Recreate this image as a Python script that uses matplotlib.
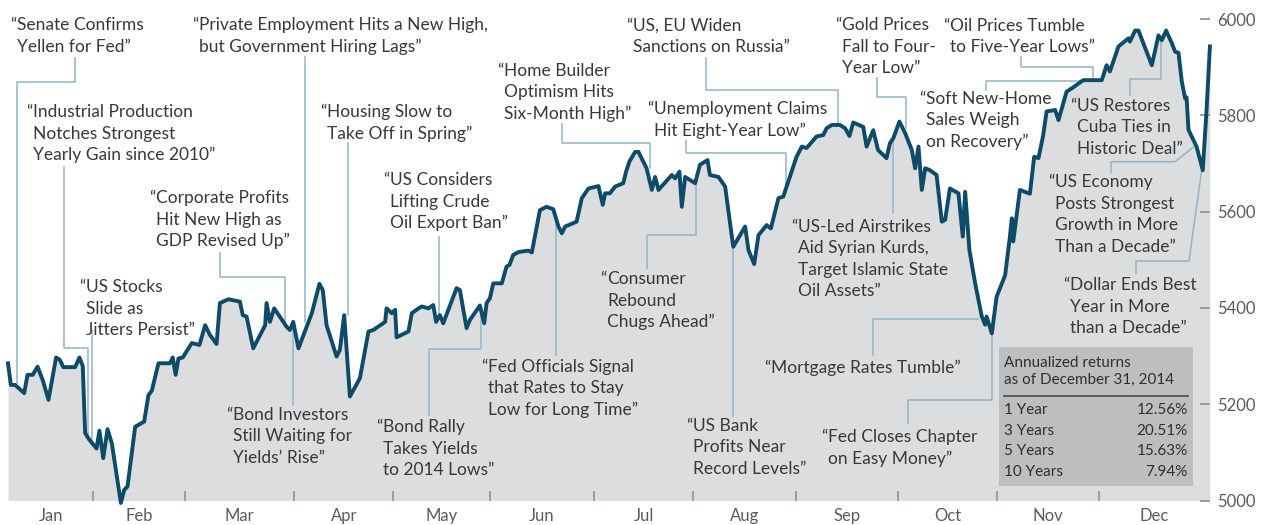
import matplotlib
matplotlib.use("Agg")
import matplotlib.pyplot as plt
import matplotlib.transforms as mtransforms
from matplotlib.patches import Rectangle

plt.rcParams['font.family'] = ['Lato', 'DejaVu Sans']

# ---------------- data ----------------
trading_day = [
    0.0, 0.6, 1.5, 3.4, 4.1, 5.2, 6.2, 7.3, 8.5, 10.1,
    10.9, 11.6, 14.1, 15.0, 15.7, 16.2, 17.1, 18.6, 19.2, 20.0,
    20.9, 21.8, 23.7, 24.4, 25.1, 26.7, 28.6, 29.5, 30.2, 31.6,
    34.0, 34.6, 35.2, 35.8, 36.7, 38.6, 40.2, 41.4, 42.4, 43.8,
    44.5, 46.3, 48.7, 49.3, 50.1, 51.5, 54.0, 54.3, 55.0, 55.9,
    58.5, 59.2, 59.9, 61.0, 63.8, 65.4, 66.1, 66.9, 69.0, 69.7,
    70.6, 71.8, 73.9, 75.7, 76.7, 79.2, 79.5, 80.6, 81.3, 81.6,
    84.1, 84.8, 86.2, 86.9, 88.3, 89.3, 89.9, 90.7, 91.4, 94.2,
    94.9, 96.3, 97.0, 99.1, 100.0, 100.5, 101.2, 101.9, 103.7, 104.7,
    105.3, 106.1, 107.2, 109.3, 110.0, 111.7, 113.1, 114.5, 115.6, 116.3,
    117.0, 119.4, 120.5, 121.2, 121.9, 124.0, 124.9, 125.4, 126.4, 127.5,
    129.2, 129.8, 130.5, 131.7, 132.4, 132.7, 134.1, 135.2, 135.9, 136.6,
    139.4, 140.1, 141.0, 141.5, 142.2, 144.3, 145.3, 146.9, 147.4, 149.2,
    150.6, 152.3, 154.8, 155.5, 156.7, 157.6, 159.3, 160.2, 161.8, 162.8,
    165.6, 166.7, 167.7, 169.8, 171.2, 171.9, 173.0, 174.7, 175.8, 176.7,
    177.5, 179.6, 180.3, 181.7, 182.7, 184.5, 185.2, 185.9, 187.2, 188.4,
    189.8, 190.5, 191.2, 191.9, 192.6, 193.6, 195.0, 196.1, 196.8, 197.8,
    199.6, 200.5, 201.0, 201.9, 203.1, 204.5, 205.2, 205.5, 206.6, 207.6,
    209.4, 210.4, 210.8, 211.1, 212.5, 214.6, 215.5, 216.4, 217.4, 218.1,
    219.9, 220.6, 222.3, 223.7, 225.8, 229.7, 230.7, 231.4, 233.2, 235.3,
    235.6, 236.7, 237.4, 240.2, 241.6, 242.3, 243.2, 244.4, 245.1, 245.8,
    246.5, 247.2, 247.5, 247.9, 249.6, 250.9, 251.7, 252.4,
]
index_value = [
    5285, 5240, 5240, 5223, 5261, 5261, 5278, 5250, 5209, 5297,
    5292, 5277, 5277, 5297, 5279, 5140, 5126, 5108, 5145, 5088,
    5148, 5119, 4995, 5022, 5029, 5153, 5164, 5219, 5228, 5285,
    5285, 5297, 5261, 5295, 5297, 5327, 5323, 5364, 5344, 5325,
    5410, 5418, 5413, 5385, 5382, 5316, 5364, 5410, 5371, 5399,
    5361, 5354, 5371, 5316, 5389, 5450, 5437, 5364, 5299, 5313,
    5385, 5216, 5254, 5351, 5354, 5371, 5399, 5389, 5396, 5339,
    5351, 5389, 5399, 5403, 5399, 5406, 5371, 5385, 5368, 5441,
    5437, 5358, 5375, 5405, 5368, 5410, 5420, 5451, 5451, 5486,
    5489, 5510, 5516, 5519, 5515, 5603, 5610, 5605, 5569, 5555,
    5569, 5579, 5628, 5638, 5648, 5653, 5614, 5638, 5638, 5652,
    5659, 5683, 5704, 5724, 5724, 5718, 5690, 5645, 5672, 5645,
    5676, 5669, 5683, 5610, 5672, 5659, 5697, 5707, 5676, 5672,
    5652, 5527, 5569, 5520, 5491, 5551, 5572, 5565, 5628, 5631,
    5714, 5735, 5732, 5756, 5759, 5773, 5780, 5780, 5773, 5757,
    5785, 5776, 5735, 5769, 5728, 5711, 5742, 5752, 5787, 5763,
    5728, 5690, 5735, 5645, 5690, 5686, 5676, 5579, 5583, 5648,
    5638, 5548, 5641, 5520, 5451, 5382, 5365, 5382, 5347, 5423,
    5468, 5548, 5586, 5538, 5645, 5637, 5714, 5711, 5759, 5808,
    5811, 5790, 5849, 5858, 5873, 5873, 5904, 5891, 5943, 5960,
    5953, 5976, 5976, 5904, 5966, 5956, 5976, 5950, 5932, 5930,
    5870, 5835, 5837, 5770, 5735, 5686, 5811, 5943,
]
month_names = ["Jan", "Feb", "Mar", "Apr", "May", "Jun",
               "Jul", "Aug", "Sep", "Oct", "Nov", "Dec"]
month_edges = [0, 17.9, 37.2, 60.1, 80.9, 101.2, 123.1, 143.9,
               165.5, 186.9, 207.7, 229.1, 252.42]
y_ticks = [5000, 5200, 5400, 5600, 5800, 6000]

table_title = ["Annualized returns", "as of December 31, 2014"]
return_periods = ["1 Year", "3 Years", "5 Years", "10 Years"]
return_values = ["12.56%", "20.51%", "15.63%", "7.94%"]

headline_texts = [
    ["Senate Confirms", "Yellen for Fed\u201d"],
    ["Industrial Production", "Notches Strongest", "Yearly Gain since 2010\u201d"],
    ["US Stocks", "Slide as", "Jitters Persist\u201d"],
    ["Corporate Profits", "Hit New High as", "GDP Revised Up\u201d"],
    ["Private Employment Hits a New High,", "but Government Hiring Lags\u201d"],
    ["Housing Slow to", "Take Off in Spring\u201d"],
    ["US Considers", "Lifting Crude", "Oil Export Ban\u201d"],
    ["Home Builder", "Optimism Hits", "Six-Month High\u201d"],
    ["US, EU Widen", "Sanctions on Russia\u201d"],
    ["Unemployment Claims", "Hit Eight-Year Low\u201d"],
    ["Consumer", "Rebound", "Chugs Ahead\u201d"],
    ["Fed Officials Signal", "that Rates to Stay", "Low for Long Time\u201d"],
    ["Bond Rally", "Takes Yields", "to 2014 Lows\u201d"],
    ["Bond Investors", "Still Waiting for", "Yields\u2019 Rise\u201d"],
    ["US Bank", "Profits Near", "Record Levels\u201d"],
    ["US-Led Airstrikes", "Aid Syrian Kurds,", "Target Islamic State", "Oil Assets\u201d"],
    ["Gold Prices", "Fall to Four-", "Year Low\u201d"],
    ["Oil Prices Tumble", "to Five-Year Lows\u201d"],
    ["Soft New-Home", "Sales Weigh", "on Recovery\u201d"],
    ["US Restores", "Cuba Ties in", "Historic Deal\u201d"],
    ["US Economy", "Posts Strongest", "Growth in More", "Than a Decade\u201d"],
    ["Dollar Ends Best", "Year in More", "than a Decade\u201d"],
    ["Mortgage Rates Tumble\u201d"],
    ["Fed Closes Chapter", "on Easy Money\u201d"],
]

# ---------------- layout (figure pixels from top-left) ----------------
headline_pos = [
    (17, 25), (33, 112), (86, 287), (156, 198), (199, 25), (327, 112),
    (390, 180), (504, 71), (633, 26), (654, 109), (607, 279), (488, 367),
    (383, 427), (233, 415), (693, 426), (798, 227), (842, 25), (950, 26),
    (926, 99), (1077, 106), (1055, 182), (1070, 285), (771, 368), (828, 437),
]
leader_paths = [
    [(75, 58), (75, 82), (16.7, 82), (16.7, 383)],
    [(64.3, 167), (64.3, 348), (88.3, 348), (88.3, 436)],
    [(91.7, 330), (91.7, 443)],
    [(220, 253), (220, 277), (285, 277), (285, 324)],
    [(305, 57), (305, 322)],
    [(348.3, 143), (348.3, 315)],
    [(439.3, 237), (439.3, 316)],
    [(561.7, 124), (561.7, 143.3), (650, 143.3), (650, 168)],
    [(705.7, 58), (705.7, 90), (838.3, 90), (838.3, 124)],
    [(685.7, 141), (685.7, 153), (786, 153), (786, 192)],
    [(647, 268), (647, 235), (696, 235), (696, 181)],
    [(556, 355), (556, 218)],
    [(429.3, 415), (429.3, 349), (480.7, 349), (480.7, 306)],
    [(292.7, 405), (292.7, 322)],
    [(732.7, 416), (732.7, 247)],
    [(892.7, 213), (892.7, 139)],
    [(877.3, 78), (877.3, 96.7), (905.7, 96.7), (905.7, 128)],
    [(1021, 57), (1021, 66.7), (1093.3, 66.7), (1093.3, 80)],
    [(986, 90), (986, 80.7), (1082, 80.7)],
    [(1129.5, 95), (1129.5, 79.3), (1160.7, 79.3), (1160.7, 40)],
    [(1111, 173), (1111, 161.7), (1175, 161.7), (1196, 145)],
    [(1136, 273), (1136, 261), (1189, 261), (1202, 168)],
    [(873.3, 355), (873.3, 319.3), (978.3, 319.3)],
    [(908.3, 423), (908.3, 400), (991.7, 400), (991.7, 333)],
]

W, H = 1261, 525
LINE_STEP = 21.5
TEXT_C = '#38383a'
GRAY_LBL = '#5a5b5d'

fig = plt.figure(figsize=(W / 100, H / 100), dpi=100)
T = mtransforms.Affine2D().scale(1 / W, -1 / H).translate(0, 1) + fig.transFigure

ax = fig.add_axes([8 / W, (H - 500.5) / H, (1210 - 8) / W, (500.5 - 19) / H])
ax.set_xlim(month_edges[0], month_edges[-1])
ax.set_ylim(y_ticks[0], y_ticks[-1])
for sp in ax.spines.values():
    sp.set_visible(False)
ax.patch.set_alpha(0)

ax.fill_between(trading_day, index_value, y_ticks[0], color='#dcdddf', lw=0, zorder=1)
ax.plot(trading_day, index_value, color='#0c4c68', lw=2.8, solid_joinstyle='round',
        zorder=5, clip_on=False)

# x axis: month boundary ticks and centred month names
ax.set_xticks(month_edges[1:-1])
ax.set_xticklabels([])
mids = [(a + b) / 2 for a, b in zip(month_edges[:-1], month_edges[1:])]
ax.set_xticks(mids, minor=True)
ax.set_xticklabels(month_names, minor=True)
ax.tick_params(axis='x', which='major', direction='in', length=7, width=1.4, color='#9d9d9d')
ax.tick_params(axis='x', which='minor', length=0, pad=5.5, labelsize=12, labelcolor=GRAY_LBL)

# y axis on the right
ax.yaxis.tick_right()
ax.set_yticks(y_ticks)
ax.set_yticklabels([str(v) for v in y_ticks])
ax.tick_params(axis='y', which='major', direction='in', length=7, width=1.4, color='#9d9d9d',
               pad=5, labelsize=12, labelcolor=GRAY_LBL)

# headlines
for lines, (x, y), path in zip(headline_texts, headline_pos, leader_paths):
    xs, ys = zip(*path)
    ax.plot(xs, ys, transform=T, color='#93b4c6', lw=1.1, clip_on=False, zorder=3)
    ax.text(x - 0.5, y, '\u201c', transform=T, ha='right', va='center', fontsize=12.5,
            color=TEXT_C, zorder=6, clip_on=False)
    for i, ln in enumerate(lines):
        ax.text(x, y + i * LINE_STEP, ln, transform=T, ha='left', va='center',
                fontsize=12.5, color=TEXT_C, zorder=6, clip_on=False)

# returns table
ax.add_patch(Rectangle((999.3, 347.3), 194, 138.7, transform=T, facecolor='#bdbec0',
                       edgecolor='none', zorder=7, clip_on=False))
for i, t in enumerate(table_title):
    ax.text(1004, 363 + i * 17, t, transform=T, ha='left', va='center', fontsize=11,
            color='#2f2f30', zorder=8, clip_on=False)
ax.plot([1004, 1188], [395.7, 395.7], transform=T, color='#4a4a4c', lw=1.2, zorder=8,
        clip_on=False)
for i, (p, v) in enumerate(zip(return_periods, return_values)):
    yy = 410 + i * 20.7
    ax.text(1004, yy, p, transform=T, ha='left', va='center', fontsize=11,
            color='#2f2f30', zorder=8, clip_on=False)
    ax.text(1188, yy, v, transform=T, ha='right', va='center', fontsize=11,
            color='#2f2f30', zorder=8, clip_on=False)

fig.savefig('out.png', dpi=100)
